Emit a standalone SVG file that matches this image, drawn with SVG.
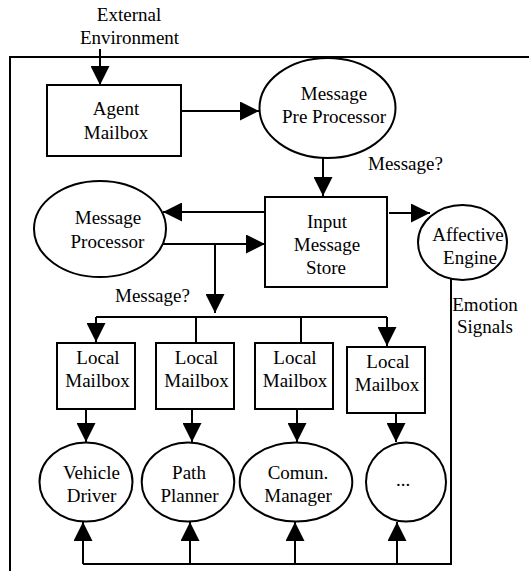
<svg xmlns="http://www.w3.org/2000/svg" width="529" height="571" viewBox="0 0 529 571">
<defs>
<style>
.s{fill:none;stroke:#000;stroke-width:2}
.n{fill:#fff;stroke:#000;stroke-width:2}
.c{fill:none;stroke:#000;stroke-width:2}
.a{marker-end:url(#ah)}
text{font-family:"Liberation Serif","Times New Roman",serif;font-size:19px;fill:#000;text-anchor:middle}
.l{text-anchor:start}
</style>
<marker id="ah" markerUnits="userSpaceOnUse" markerWidth="19" markerHeight="19" refX="19" refY="9.5" orient="auto">
<path d="M0,0 L19,9.5 L0,19 Z" fill="#000"/>
</marker>
</defs>
<rect x="0" y="0" width="529" height="571" fill="#fff"/>
<g id="frame"><path class="s" d="M10,575 L10,57 L540,57"/></g>
<g id="external"><text x="129" y="21">External</text><text x="129.5" y="44">Environment</text></g>
<g id="connectors">
<path class="c a" d="M100,49 L100,85"/>
<path class="c a" d="M181,111 L259,111"/>
<path class="c a" d="M323,158 L323,196"/>
<path class="c a" d="M265,212 L163,212"/>
<path class="c a" d="M163,244 L265,244"/>
<path class="c a" d="M215,244 L215,313"/>
<path class="c a" d="M389,213 L430,213"/>
<path class="c" d="M96,317 L387,317"/>
<path class="c a" d="M96,317 L96,342"/>
<path class="c a" d="M387,317 L387,346"/>
<path class="c" d="M196,317 L196,343"/>
<path class="c" d="M301,317 L301,343"/>
<path class="c a" d="M86,409 L86,442"/>
<path class="c a" d="M192,409 L192,442"/>
<path class="c a" d="M297,409 L297,442"/>
<path class="c a" d="M396,413 L396,442"/>
<path class="c" d="M451,279 L451,564 L83,564"/>
<path class="c a" d="M83,564 L83,522"/>
<path class="c a" d="M190,564 L190,522"/>
<path class="c a" d="M295,564 L295,522"/>
<path class="c a" d="M397,564 L397,522"/>
<text class="l" x="368" y="170">Message?</text>
<text class="l" x="115" y="302">Message?</text>
<text x="485" y="311">Emotion</text>
<text x="485" y="333">Signals</text>
</g>
<g id="agent-mailbox"><rect class="n" x="47" y="85" width="134" height="71"/><text x="116" y="115">Agent</text><text x="116" y="139">Mailbox</text></g>
<g id="pre-processor"><ellipse class="n" cx="327.5" cy="108" rx="68" ry="50"/><text x="334" y="100">Message</text><text x="334" y="123">Pre Processor</text></g>
<g id="message-processor"><ellipse class="n" cx="100" cy="229" rx="66" ry="48"/><text x="108" y="224">Message</text><text x="107.5" y="248">Processor</text></g>
<g id="input-store"><rect class="n" x="265" y="197" width="122" height="90"/><text x="327" y="228">Input</text><text x="327" y="251">Message</text><text x="326" y="274">Store</text></g>
<g id="affective"><ellipse class="n" cx="462.5" cy="242.5" rx="44.5" ry="37.5"/><text x="468" y="241">Affective</text><text x="470" y="264">Engine</text></g>
<g id="local1"><rect class="n" x="57" y="343" width="78" height="66"/><text x="98" y="364">Local</text><text x="97.5" y="387">Mailbox</text></g>
<g id="local2"><rect class="n" x="156" y="343" width="78" height="66"/><text x="196.5" y="364">Local</text><text x="196.5" y="387">Mailbox</text></g>
<g id="local3"><rect class="n" x="255" y="343" width="78" height="66"/><text x="295" y="364">Local</text><text x="295" y="387">Mailbox</text></g>
<g id="local4"><rect class="n" x="347" y="347" width="78" height="66"/><text x="388" y="368">Local</text><text x="387" y="391">Mailbox</text></g>
<g id="vehicle-driver"><ellipse class="n" cx="86" cy="482" rx="46.5" ry="39.5"/><text x="91.5" y="479">Vehicle</text><text x="91.5" y="502">Driver</text></g>
<g id="path-planner"><ellipse class="n" cx="188" cy="482" rx="46.3" ry="39.5"/><text x="189" y="479">Path</text><text x="189.5" y="502">Planner</text></g>
<g id="comun-manager"><ellipse class="n" cx="296" cy="482" rx="56.3" ry="39.5"/><text x="298" y="479">Comun.</text><text x="298" y="502">Manager</text></g>
<g id="other"><ellipse class="n" cx="406" cy="482" rx="40" ry="39.5"/><text x="403" y="486">...</text></g>
</svg>
